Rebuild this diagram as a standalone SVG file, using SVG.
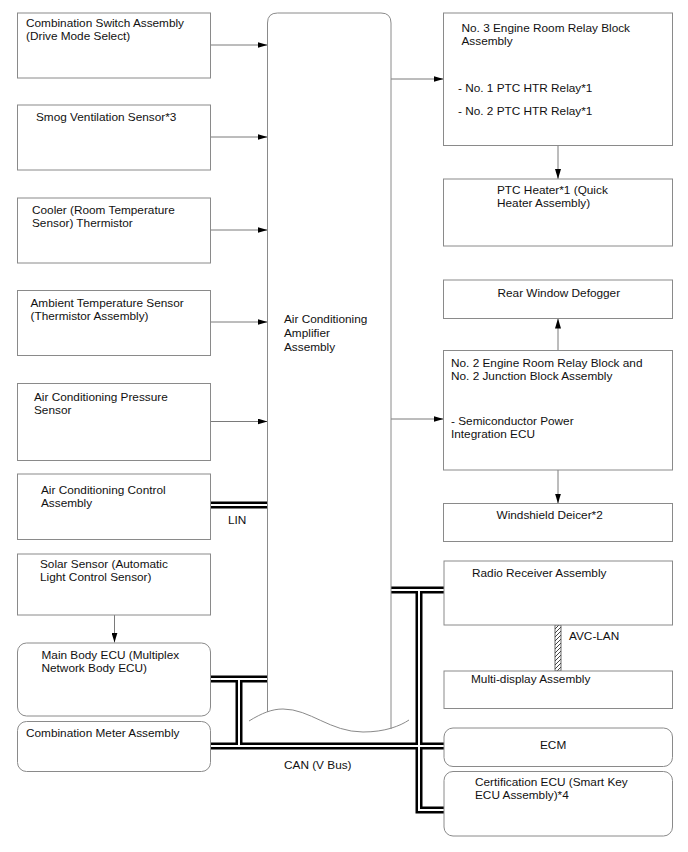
<svg xmlns="http://www.w3.org/2000/svg" width="688" height="852" viewBox="0 0 688 852">
<defs>
<style>
.box{fill:#fff;stroke:#8a8a8a;stroke-width:1}
.t{font-family:"Liberation Sans",Arial,sans-serif;font-size:11.8px;fill:#111}
.ln{stroke:#7a7a7a;stroke-width:1;fill:none}
.busb{stroke:#000;stroke-width:7;fill:none;stroke-linejoin:miter;stroke-linecap:butt}
.busw{stroke:#fff;stroke-width:2;fill:none;stroke-linejoin:miter;stroke-linecap:butt}
</style>
<marker id="ah" markerWidth="10" markerHeight="6" refX="10" refY="3" orient="auto" markerUnits="userSpaceOnUse">
<path d="M0,0 L10,3 L0,6 z" fill="#000"/>
</marker>
<pattern id="hatch" width="4" height="4" patternUnits="userSpaceOnUse">
<rect width="4" height="4" fill="#fff"/>
<path d="M-1,5 L5,-1 M-1,1 L1,-1 M3,5 L5,3" stroke="#444" stroke-width="1"/>
</pattern>
</defs>
<rect width="688" height="852" fill="#fff"/>

<g id="connectors">
<line class="ln" x1="210.5" y1="45" x2="267.5" y2="45" marker-end="url(#ah)"/>
<line class="ln" x1="210.5" y1="137" x2="267.5" y2="137" marker-end="url(#ah)"/>
<line class="ln" x1="210.5" y1="230" x2="267.5" y2="230" marker-end="url(#ah)"/>
<line class="ln" x1="210.5" y1="322" x2="267.5" y2="322" marker-end="url(#ah)"/>
<line class="ln" x1="210.5" y1="421.5" x2="267.5" y2="421.5" marker-end="url(#ah)"/>
<line class="ln" x1="391" y1="79" x2="443.5" y2="79" marker-end="url(#ah)"/>
<line class="ln" x1="391" y1="419" x2="443.5" y2="419" marker-end="url(#ah)"/>
<line class="ln" x1="114.5" y1="615" x2="114.5" y2="642.5" marker-end="url(#ah)"/>
<line class="ln" x1="558" y1="145.5" x2="558" y2="179" marker-end="url(#ah)"/>
<line class="ln" x1="558" y1="350.5" x2="558" y2="318.5" marker-end="url(#ah)"/>
<line class="ln" x1="558" y1="470" x2="558" y2="503.5" marker-end="url(#ah)"/>
<g id="buses-black">
<path class="busb" d="M210.5,505 H267.5"/>
<path class="busb" d="M210.5,679 H267.5"/>
<path class="busb" d="M239,679 V746"/>
<path class="busb" d="M210.5,746 H444"/>
<path class="busb" d="M391,590 H444"/>
<path class="busb" d="M419,590 V810 H444"/>
</g>
<g id="buses-white">
<path class="busw" d="M210.5,505 H267.5"/>
<path class="busw" d="M210.5,679 H267.5"/>
<path class="busw" d="M239,679 V746"/>
<path class="busw" d="M210.5,746 H444"/>
<path class="busw" d="M391,590 H444"/>
<path class="busw" d="M419,590 V810 H444"/>
</g>
<rect x="555" y="625" width="6" height="46" fill="url(#hatch)" stroke="#444" stroke-width="0.8"/>
<text class="t" x="228" y="524">LIN</text>
<text class="t" x="284" y="769">CAN (V Bus)</text>
<text class="t" x="569" y="640">AVC-LAN</text>
</g>

<g id="amplifier">
<path d="M267.5,712 V23 Q267.5,13 277.5,13 H381 Q391,13 391,23 V729" fill="#fff" stroke="#8a8a8a" stroke-width="1"/>
<path d="M249,721 C262,713 272,709 283,709 C310,709 330,732 363,732 C385,732 400,726 409,720" fill="none" stroke="#8a8a8a" stroke-width="1"/>
<text class="t" x="284" y="323">Air Conditioning</text>
<text class="t" x="284" y="337">Amplifier</text>
<text class="t" x="284" y="351">Assembly</text>
</g>

<g id="combination-switch">
<rect class="box" x="17.5" y="13" width="193" height="65"/>
<text class="t" x="26" y="27">Combination Switch Assembly</text>
<text class="t" x="26" y="40">(Drive Mode Select)</text>
</g>
<g id="smog-sensor">
<rect class="box" x="17.5" y="105" width="193" height="65"/>
<text class="t" x="36" y="121">Smog Ventilation Sensor*3</text>
</g>
<g id="cooler-thermistor">
<rect class="box" x="17.5" y="198" width="193" height="65"/>
<text class="t" x="32" y="213.5">Cooler (Room Temperature</text>
<text class="t" x="32" y="226.5">Sensor) Thermistor</text>
</g>
<g id="ambient-sensor">
<rect class="box" x="17.5" y="290.5" width="193" height="65"/>
<text class="t" x="30.5" y="307">Ambient Temperature Sensor</text>
<text class="t" x="30.5" y="320">(Thermistor Assembly)</text>
</g>
<g id="pressure-sensor">
<rect class="box" x="17.5" y="383.5" width="193" height="77"/>
<text class="t" x="34" y="400.5">Air Conditioning Pressure</text>
<text class="t" x="34" y="413.5">Sensor</text>
</g>
<g id="ac-control">
<rect class="box" x="17.5" y="474" width="193" height="65.5"/>
<text class="t" x="41" y="493.5">Air Conditioning Control</text>
<text class="t" x="41" y="506.5">Assembly</text>
</g>
<g id="solar-sensor">
<rect class="box" x="17.5" y="554" width="193" height="61"/>
<text class="t" x="40" y="567.5">Solar Sensor (Automatic</text>
<text class="t" x="40" y="580.5">Light Control Sensor)</text>
</g>
<g id="main-body-ecu">
<rect class="box" x="17.5" y="643" width="193" height="73" rx="9"/>
<text class="t" x="41.5" y="658.5">Main Body ECU (Multiplex</text>
<text class="t" x="41.5" y="671.5">Network Body ECU)</text>
</g>
<g id="combination-meter">
<rect class="box" x="17.5" y="721.5" width="193" height="50" rx="9"/>
<text class="t" x="26" y="736.5">Combination Meter Assembly</text>
</g>

<g id="no3-relay-block">
<rect class="box" x="443.5" y="13" width="229" height="132.5"/>
<text class="t" x="461.5" y="31.5">No. 3 Engine Room Relay Block</text>
<text class="t" x="461.5" y="44.5">Assembly</text>
<text class="t" x="458" y="91.5">- No. 1 PTC HTR Relay*1</text>
<text class="t" x="458" y="114.5">- No. 2 PTC HTR Relay*1</text>
</g>
<g id="ptc-heater">
<rect class="box" x="443.5" y="179" width="229" height="67"/>
<text class="t" x="497" y="194">PTC Heater*1 (Quick</text>
<text class="t" x="497" y="207">Heater Assembly)</text>
</g>
<g id="rear-defogger">
<rect class="box" x="443.5" y="280" width="229" height="38.5"/>
<text class="t" x="497.5" y="296.5">Rear Window Defogger</text>
</g>
<g id="no2-relay-block">
<rect class="box" x="443.5" y="350.5" width="229" height="119.5"/>
<text class="t" x="451" y="366.5">No. 2 Engine Room Relay Block and</text>
<text class="t" x="451" y="379.5">No. 2 Junction Block Assembly</text>
<text class="t" x="451" y="425">- Semiconductor Power</text>
<text class="t" x="451" y="438">Integration ECU</text>
</g>
<g id="windshield-deicer">
<rect class="box" x="443.5" y="503.5" width="229" height="38"/>
<text class="t" x="496.5" y="518.5">Windshield Deicer*2</text>
</g>
<g id="radio-receiver">
<rect class="box" x="444" y="561" width="228.5" height="64"/>
<text class="t" x="472" y="576.5">Radio Receiver Assembly</text>
</g>
<g id="multi-display">
<rect class="box" x="444" y="671" width="228.5" height="37.5"/>
<text class="t" x="471" y="682.5">Multi-display Assembly</text>
</g>
<g id="ecm">
<rect class="box" x="444" y="728" width="228.5" height="38.5" rx="9"/>
<text class="t" x="540" y="748.5">ECM</text>
</g>
<g id="certification-ecu">
<rect class="box" x="444" y="771.5" width="228.5" height="64.5" rx="9"/>
<text class="t" x="475" y="786">Certification ECU (Smart Key</text>
<text class="t" x="475" y="799">ECU Assembly)*4</text>
</g>
</svg>
